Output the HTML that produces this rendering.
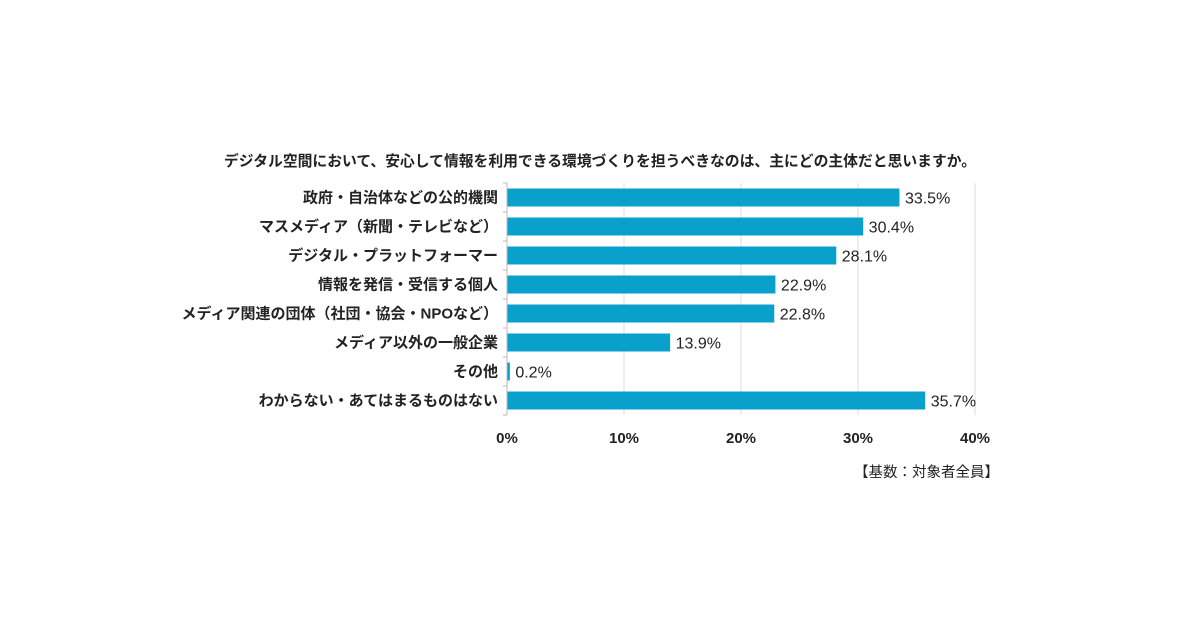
<!DOCTYPE html>
<html><head><meta charset="utf-8"><style>
body{margin:0;background:#fff;width:1200px;height:625px;overflow:hidden;font-family:"Liberation Sans","Noto Sans CJK JP",sans-serif;}
svg text{font-family:"Liberation Sans","Noto Sans CJK JP",sans-serif;fill:#222;}
</style></head><body>
<svg width="1200" height="625">
<text x="600" y="166" text-anchor="middle" font-size="14.8" font-weight="bold">デジタル空間において、安心して情報を利用できる環境づくりを担うべきなのは、主にどの主体だと思いますか。</text>
<g id="grid"></g><g id="bars"></g><g id="labels"></g>
<text x="999" y="477" text-anchor="end" font-size="14.5">【基数：対象者全員】</text>
</svg>
<script>
const categories=["政府・自治体などの公的機関","マスメディア（新聞・テレビなど）","デジタル・プラットフォーマー","情報を発信・受信する個人","メディア関連の団体（社団・協会・NPOなど）","メディア以外の一般企業","その他","わからない・あてはまるものはない"];
const values=[33.5,30.4,28.1,22.9,22.8,13.9,0.2,35.7];
const ticks=[0,10,20,30,40];
const ns="http://www.w3.org/2000/svg";
const x0=507,x1=975,y0=183,rowH=29,barH=18;
const xs=v=>x0+(v/40)*(x1-x0);
function mk(t,a,p){const e=document.createElementNS(ns,t);for(const k in a)e.setAttribute(k,a[k]);document.getElementById(p).appendChild(e);return e;}
ticks.forEach(t=>{
 const g=mk('line',{x1:xs(t),x2:xs(t),y1:y0,y2:y0+rowH*categories.length,stroke:t===0?'#bbb':'#ddd','stroke-width':1},'grid');
 
 
 const tx=mk('text',{x:xs(t),y:443,'text-anchor':'middle','font-size':15,'font-weight':'bold'},'labels');
 tx.textContent=t+'%';
 
 
});
for(let i=0;i<=categories.length;i++){
 const tk=mk('line',{x1:x0-4,x2:x0,y1:y0+i*rowH,y2:y0+i*rowH,stroke:'#bbb'},'grid');
 
 
}
categories.forEach((c,i)=>{
 const cy=y0+i*rowH+rowH/2;
 const r=mk('rect',{x:x0+0.5,y:cy-barH/2,width:Math.max(xs(values[i])-x0,2),height:barH,fill:'#0aa0cc'},'bars');
 
 
 const l=mk('text',{x:x0-9,y:cy+5,'text-anchor':'end','font-size':15,'font-weight':'bold'},'labels');
 l.textContent=c;
 
 
 const v=mk('text',{x:xs(values[i])+6,y:cy+6,'font-size':16},'labels');
 v.textContent=values[i].toFixed(1)+'%';
 
 
});
</script>
</body></html>
